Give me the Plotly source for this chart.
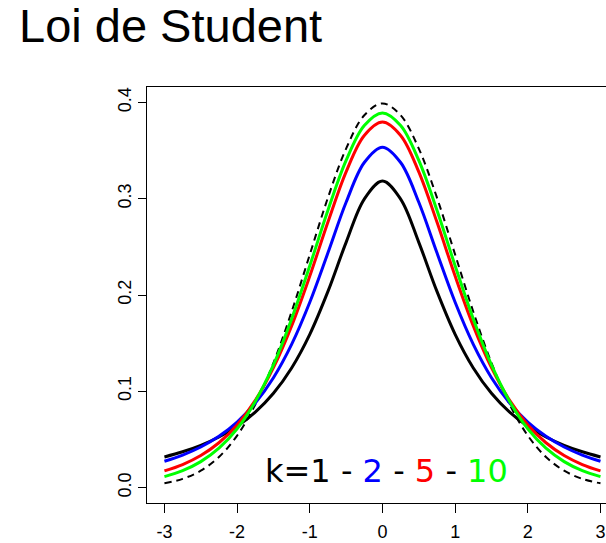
import plotly.graph_objects as go

x_vals = [-3, -2.75, -2.5, -2.25, -2, -1.75, -1.5, -1.25, -1, -0.75, -0.5, -0.25, 0,
          0.25, 0.5, 0.75, 1, 1.25, 1.5, 1.75, 2, 2.25, 2.5, 2.75, 3]

normal_dens = [0.00443, 0.00909, 0.01753, 0.03174, 0.05399, 0.08628, 0.12952, 0.18265, 0.24197,
               0.30114, 0.35207, 0.38667, 0.39894, 0.38667, 0.35207, 0.30114, 0.24197, 0.18265,
               0.12952, 0.08628, 0.05399, 0.03174, 0.01753, 0.00909, 0.00443]
t1_dens = [0.03183, 0.03718, 0.04390, 0.05251, 0.06366, 0.07835, 0.09794, 0.12422, 0.15915,
           0.20372, 0.25465, 0.29959, 0.31831, 0.29959, 0.25465, 0.20372, 0.15915, 0.12422,
           0.09794, 0.07835, 0.06366, 0.05251, 0.04390, 0.03718, 0.03183]
t2_dens = [0.02741, 0.03381, 0.04220, 0.05328, 0.06804, 0.08779, 0.11413, 0.14872, 0.19245,
           0.24378, 0.29630, 0.33761, 0.35355, 0.33761, 0.29630, 0.24378, 0.19245, 0.14872,
           0.11413, 0.08779, 0.06804, 0.05328, 0.04220, 0.03381, 0.02741]
t5_dens = [0.01729, 0.02393, 0.03333, 0.04657, 0.06509, 0.09054, 0.12452, 0.16789, 0.21968,
           0.27570, 0.32792, 0.36572, 0.37961, 0.36572, 0.32792, 0.27570, 0.21968, 0.16789,
           0.12452, 0.09054, 0.06509, 0.04657, 0.03333, 0.02393, 0.01729]
t10_dens = [0.01140, 0.01757, 0.02694, 0.04090, 0.06115, 0.08953, 0.12745, 0.17510, 0.23036,
            0.28799, 0.33970, 0.37600, 0.38911, 0.37600, 0.33970, 0.28799, 0.23036, 0.17510,
            0.12745, 0.08953, 0.06115, 0.04090, 0.02694, 0.01757, 0.01140]

x_ticks = [-3, -2, -1, 0, 1, 2, 3]
y_ticks = [0.0, 0.1, 0.2, 0.3, 0.4]
y_tick_labels = ["0.0", "0.1", "0.2", "0.3", "0.4"]

fig = go.Figure()
fig.add_trace(go.Scatter(x=x_vals, y=normal_dens, mode="lines", line=dict(color="black", width=2, dash="7px,5px", shape="spline"), name="N(0,1)"))
for dens, col, nm in [(t1_dens, "#000000", "k=1"), (t2_dens, "#0000FF", "k=2"),
                      (t5_dens, "#FF0000", "k=5"), (t10_dens, "#00FF00", "k=10")]:
    fig.add_trace(go.Scatter(x=x_vals, y=dens, mode="lines", line=dict(color=col, width=3, shape="spline"), name=nm))

fig.add_annotation(
    x=0.06, y=0.017, xref="x", yref="y",
    text="k=1 - <span style='color:#0000FF'>2</span> - <span style='color:#FF0000'>5</span> - <span style='color:#00FF00'>10</span>",
    showarrow=False, font=dict(family="DejaVu Sans", size=32, color="black"),
    xanchor="center", yanchor="middle")

fig.add_annotation(
    x=(17 - 147) / 459, y=(503 - 26) / 416, xref="paper", yref="paper",
    text="Loi de Student", showarrow=False,
    font=dict(family="Liberation Sans", size=47, color="black"),
    xanchor="left", yanchor="middle")

tick_font = dict(family="Arial", size=18, color="black")

fig.update_layout(
    width=606, height=543,
    margin=dict(l=147, r=0, t=87, b=40, autoexpand=False),
    paper_bgcolor="white", plot_bgcolor="white",
    showlegend=False,
)
fig.update_xaxes(range=[-3.24, 3.076], tickmode="array", tickvals=x_ticks, ticktext=[str(t) for t in x_ticks],
                 tickfont=tick_font, ticklabeloverflow="allow", ticklabelstandoff=3, automargin=False,
                 showgrid=False, zeroline=False, showline=True, mirror=True, linecolor="black", linewidth=1.3,
                 ticks="outside", ticklen=9, tickwidth=1.3, tickcolor="black")
fig.update_yaxes(range=[-0.016, 0.416], tickmode="array", tickvals=y_ticks, ticktext=y_tick_labels, tickangle=-90,
                 tickfont=tick_font, automargin=False,
                 showgrid=False, zeroline=False, showline=True, mirror=False, linecolor="black", linewidth=1.3,
                 ticks="outside", ticklen=8, tickwidth=1.3, tickcolor="black")

fig.write_html("out.html")
